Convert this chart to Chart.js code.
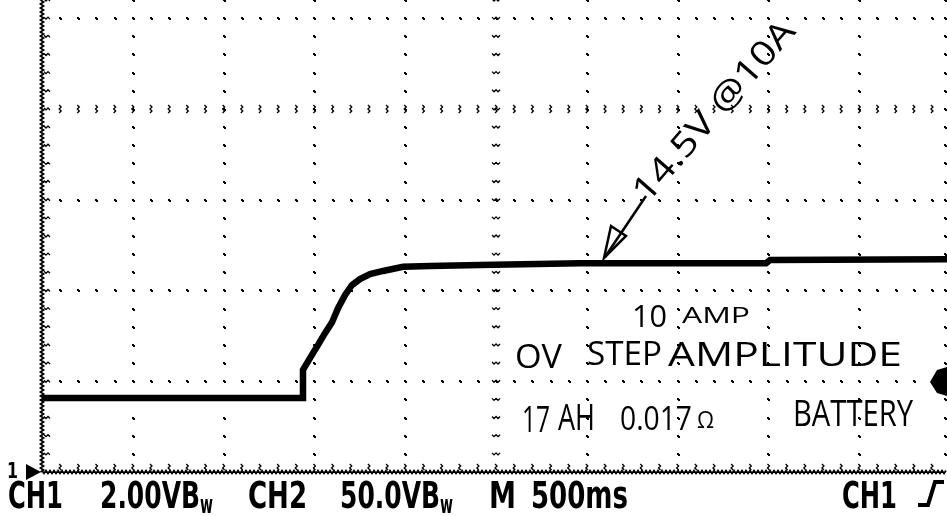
<!DOCTYPE html>
<html>
<head>
<meta charset="utf-8">
<script src="https://cdn.jsdelivr.net/npm/chart.js@4.4.0/dist/chart.umd.min.js"></script>
<style>
  html, body { margin: 0; padding: 0; background: #fff; }
  #wrap { width: 947px; height: 516px; }
</style>
</head>
<body>
<div id="wrap"><canvas id="scope" width="947" height="516"></canvas></div>
<script>
// CH1 trace: time in ms from the left edge of the screen, volts above the CH1 ground marker
const timeMs   = [0, 1432, 1437, 1492, 1520, 1558, 1597, 1630, 1669, 1707, 1751, 1806, 1878, 1988, 2137, 2412, 2963, 3987, 4009, 4983];
const ch1Volts = [1.63, 1.63, 2.25, 2.62, 2.80, 3.06, 3.30, 3.61, 3.90, 4.12, 4.25, 4.36, 4.43, 4.52, 4.54, 4.56, 4.60, 4.60, 4.67, 4.69];

// graticule: 500 ms/div, 2.00 V/div, five minor marks per division
const timeDivs = [0, 500, 1000, 1500, 2000, 2500, 3000, 3500, 4000, 4500];
const voltDivs = [0, 2, 4, 6, 8, 10];
const centerTime = 2500;
const centerVolt = 8;

// scope status line and the hand-written notes
const statusText = ['CH1', '2.00VB', 'w', 'CH2', '50.0VB', 'w', 'M', '500ms', 'CH1'];
const noteArrow = '14.5V @10A';
const noteLines = ['10', 'AMP', 'OV', 'STEP', 'AMPLITUDE', '17', 'AH', '0.017', 'Ω', 'BATTERY'];

function dot(ctx, x, y) {
    x = Math.round(x); y = Math.round(y);
    ctx.fillRect(x - 1, y - 1, 2, 2);
    ctx.fillRect(x, y, 2, 2);
}
function zigH(ctx, x0, x1, y, amp) {
    ctx.beginPath();
    let up = true;
    for (let x = x0; x <= x1; x += 2) { ctx.lineTo(x, y + (up ? -amp : amp)); up = !up; }
    ctx.stroke();
}
function zigV(ctx, x, y0, y1, amp) {
    ctx.beginPath();
    let up = true;
    for (let y = y0; y <= y1; y += 2) { ctx.lineTo(x + (up ? -amp : amp), y); up = !up; }
    ctx.stroke();
}
// draw text squeezed or stretched to fit x0..x1
function fitText(ctx, text, x0, x1, base) {
    const w = ctx.measureText(text).width;
    ctx.save();
    ctx.translate(x0, base);
    ctx.scale((x1 - x0) / w, 1);
    ctx.fillText(text, 0, 0);
    ctx.restore();
}

const graticule = {
    id: 'graticule',
    beforeDatasetsDraw(chart) {
        const { ctx, chartArea: a, scales: { x, y } } = chart;
        ctx.save();
        ctx.fillStyle = '#000';
        ctx.strokeStyle = '#000';
        ctx.lineWidth = 1.3;
        const nV = Math.floor(y.max / 0.4);
        const nT = Math.floor(x.max / 100);
        // vertical division lines
        timeDivs.forEach(t => {
            if (t === 0) return;
            const px = x.getPixelForValue(t);
            for (let i = 1; i <= nV; i++) {
                const py = y.getPixelForValue(i * 0.4);
                if (t === centerTime) zigH(ctx, px - 4, px + 4, py, 1);
                else dot(ctx, px, py);
            }
        });
        // right edge of the screen
        for (let i = 1; i <= nV; i++) dot(ctx, a.right - 2, y.getPixelForValue(i * 0.4));
        // horizontal division lines
        voltDivs.forEach(v => {
            if (v === 0) return;
            const py = y.getPixelForValue(v);
            for (let i = 1; i <= nT; i++) {
                const px = x.getPixelForValue(i * 100);
                if (v === centerVolt) zigV(ctx, px, py - 4, py + 4, 1);
                else dot(ctx, px, py);
            }
        });
        // left border with minor ticks
        ctx.lineWidth = 1.8;
        zigV(ctx, a.left, a.top, a.bottom, 1.5);
        ctx.lineWidth = 1.3;
        for (let i = 1; i <= nV; i++) zigH(ctx, a.left + 2, a.left + 9, y.getPixelForValue(i * 0.4), 1);
        // bottom border with minor ticks
        ctx.lineWidth = 1.8;
        zigH(ctx, a.left, a.right, a.bottom, 1.5);
        ctx.lineWidth = 1.3;
        for (let i = 1; i <= nT; i++) zigV(ctx, x.getPixelForValue(i * 100), a.bottom - 8, a.bottom - 1, 1);
        ctx.restore();
    }
};

const overlay = {
    id: 'overlay',
    afterDraw(chart) {
        const { ctx } = chart;
        ctx.save();
        ctx.fillStyle = '#000';
        ctx.strokeStyle = '#000';

        // CH1 ground marker
        ctx.font = 'bold 22px "Liberation Sans Narrow", "DejaVu Sans Condensed", sans-serif';
        ctx.textBaseline = 'alphabetic';
        fitText(ctx, '1', 7, 18, 478);
        ctx.beginPath();
        ctx.moveTo(26, 464); ctx.lineTo(41, 472); ctx.lineTo(26, 480); ctx.closePath();
        ctx.fill();

        // trigger level marker
        ctx.beginPath();
        ctx.moveTo(930, 382); ctx.lineTo(937, 370); ctx.lineTo(947, 367);
        ctx.lineTo(947, 396); ctx.lineTo(937, 393); ctx.closePath();
        ctx.fill();

        // status line
        ctx.font = 'bold 38px "Liberation Sans Narrow", "DejaVu Sans Condensed", sans-serif';
        fitText(ctx, statusText[0], 8, 63, 508);
        fitText(ctx, statusText[1], 100, 200, 508);
        fitText(ctx, statusText[3], 248, 307, 508);
        fitText(ctx, statusText[4], 340, 440, 508);
        fitText(ctx, statusText[6], 489, 516, 508);
        fitText(ctx, statusText[7], 531, 628, 508);
        fitText(ctx, statusText[8], 842, 897, 508);
        ctx.font = 'bold 24px "Liberation Sans Narrow", "DejaVu Sans Condensed", sans-serif';
        fitText(ctx, statusText[2], 200, 213, 513);
        fitText(ctx, statusText[5], 440, 453, 513);
        // rising edge trigger symbol
        ctx.lineWidth = 4;
        ctx.beginPath();
        ctx.moveTo(918, 505); ctx.lineTo(928, 505); ctx.lineTo(935, 482); ctx.lineTo(944, 482);
        ctx.stroke();

        // hand-written notes
        const hand = px => px + 'px "Open Sans", sans-serif';
        ctx.font = hand(31);
        fitText(ctx, noteLines[0], 632, 667, 327);
        ctx.font = hand(22);
        fitText(ctx, noteLines[1], 682, 750, 323);
        ctx.font = hand(33);
        fitText(ctx, noteLines[2], 515, 562, 368);
        fitText(ctx, noteLines[3], 587, 662, 365);
        fitText(ctx, noteLines[4], 668, 902, 366);
        ctx.font = hand(37);
        fitText(ctx, noteLines[5], 522, 550, 432);
        fitText(ctx, noteLines[6], 558, 595, 430);
        ctx.font = hand(33);
        fitText(ctx, noteLines[7], 620, 692, 430);
        ctx.font = hand(23);
        fitText(ctx, noteLines[8], 697, 714, 428);
        ctx.font = hand(37);
        fitText(ctx, noteLines[9], 793, 913, 426);

        // rotated note with its arrow onto the trace
        ctx.save();
        ctx.translate(640, 198);
        ctx.rotate(-49 * Math.PI / 180);
        ctx.font = hand(34);
        ctx.textBaseline = 'middle';
        fitText(ctx, noteArrow, 0, 228, 0);
        ctx.restore();
        ctx.lineWidth = 2.5;
        ctx.beginPath();
        ctx.moveTo(646, 196); ctx.lineTo(605, 257);
        ctx.stroke();
        ctx.beginPath();
        ctx.moveTo(604, 258); ctx.lineTo(611, 226); ctx.lineTo(626, 236); ctx.closePath();
        ctx.stroke();
        ctx.restore();
    }
};

const points = timeMs.map((t, i) => ({ x: t, y: ch1Volts[i] }));

new Chart(document.getElementById('scope'), {
    type: 'line',
    data: {
        datasets: [{
            label: 'CH1',
            data: points,
            borderColor: '#000',
            borderWidth: 6.5,
            pointRadius: 0,
            tension: 0,
            fill: false
        }]
    },
    options: {
        responsive: false,
        animation: false,
        devicePixelRatio: 1,
        layout: { padding: { left: 42, right: 0, top: 0, bottom: 44 } },
        plugins: { legend: { display: false }, tooltip: { enabled: false } },
        scales: {
            x: { type: 'linear', min: 0, max: 4983, display: false },
            y: { min: 0, max: 10.4, display: false }
        }
    },
    plugins: [graticule, overlay]
});
</script>
</body>
</html>
